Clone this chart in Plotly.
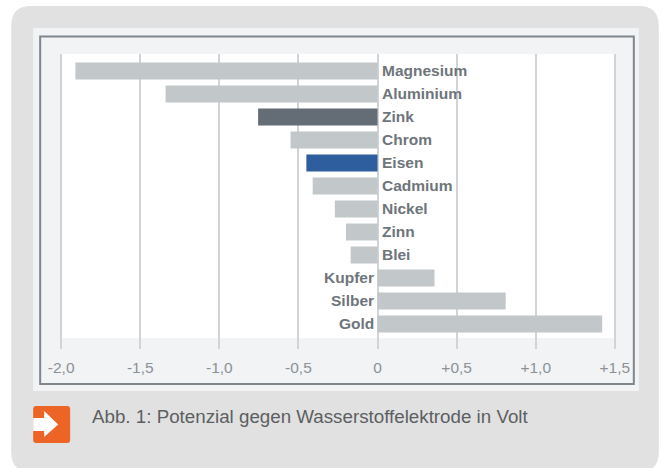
import plotly.graph_objects as go

metals = ["Magnesium", "Aluminium", "Zink", "Chrom", "Eisen", "Cadmium",
          "Nickel", "Zinn", "Blei", "Kupfer", "Silber", "Gold"]
potentials = [-1.91, -1.34, -0.755, -0.55, -0.45, -0.41, -0.27, -0.20, -0.17, 0.36, 0.81, 1.42]
tick_values = [-2.0, -1.5, -1.0, -0.5, 0, 0.5, 1.0, 1.5]
tick_labels = ["-2,0", "-1,5", "-1,0", "-0,5", "0", "+0,5", "+1,0", "+1,5"]
caption = "Abb. 1: Potenzial gegen Wasserstoffelektrode in Volt"

GREY, DARK, BLUE = "#c2c7ca", "#646c75", "#2f5e9e"
colors = [DARK if m == "Zink" else BLUE if m == "Eisen" else GREY for m in metals]

W, H = 662, 468
L, R, T, B = 57.84, 618.16, 54, 349


def px(x):
    return (x - L) / (R - L)


def py(y):
    return 1 - (y - T) / (B - T)


def rect(x0, y0, x1, y1, fill, line=None, lw=0, layer="below"):
    return dict(type="rect", xref="paper", yref="paper", x0=px(x0), x1=px(x1),
                y0=py(y0), y1=py(y1), fillcolor=fill, layer=layer,
                line=dict(color=line or fill, width=lw))


def path(points, fill):
    d = "M " + " L ".join(f"{px(x):.5f},{py(y):.5f}" for x, y in points) + " Z"
    return dict(type="path", xref="paper", yref="paper", path=d, fillcolor=fill,
                line=dict(width=0), layer="below")


def round_rect(x0, y0, x1, y1, r, fill):
    c = lambda x, y: f"{px(x):.5f},{py(y):.5f}"
    d = (f"M {c(x0 + r, y0)} L {c(x1 - r, y0)} Q {c(x1, y0)} {c(x1, y0 + r)} "
         f"L {c(x1, y1 - r)} Q {c(x1, y1)} {c(x1 - r, y1)} L {c(x0 + r, y1)} "
         f"Q {c(x0, y1)} {c(x0, y1 - r)} L {c(x0, y0 + r)} Q {c(x0, y0)} {c(x0 + r, y0)} Z")
    return dict(type="path", xref="paper", yref="paper", path=d, fillcolor=fill,
                line=dict(width=0), layer="below")


shapes = [
    round_rect(11, 6, 659, 472, 20, "#e1e1e1"),
    rect(33, 28, 639, 391, "#f2f3f5"),
    rect(40, 36.5, 634, 384, "#f2f3f5", "#7f878d", 2),
    rect(62, 54, 616, 338, "#ffffff"),
    round_rect(33, 406, 70, 443, 3, "#ec6527"),
    path([(33, 418), (44, 418), (44, 411), (58, 424.5), (44, 437), (44, 431), (33, 431)], "#ffffff"),
]

annotations = []
for m, v in zip(metals, potentials):
    annotations.append(dict(
        x=0, y=m, xref="x", yref="y", text=f"<b>{m}</b>", showarrow=False,
        xanchor="left" if v < 0 else "right", xshift=2 if v < 0 else -2, yshift=1,
        font=dict(family="Liberation Sans", size=15.5, color="#6e757b")))
annotations.append(dict(
    x=px(90), y=py(416), xref="paper", yref="paper", text=caption, showarrow=False,
    xanchor="left", yanchor="middle",
    font=dict(family="Liberation Sans", size=18.75, color="#5c5f62")))

fig = go.Figure(go.Bar(y=metals, x=potentials, orientation="h",
                       marker=dict(color=colors, line=dict(width=0)), width=0.74))
fig.update_layout(
    width=W, height=H, autosize=False, showlegend=False,
    margin=dict(l=L, r=W - R, t=T, b=H - B, pad=0),
    paper_bgcolor="#ffffff", plot_bgcolor="rgba(0,0,0,0)",
    shapes=shapes, annotations=annotations,
    xaxis=dict(range=[-2.02, 1.52], tickmode="array", tickvals=tick_values, ticktext=tick_labels,
               showgrid=True, gridcolor="#cfd4d7", gridwidth=2, zeroline=True,
               zerolinecolor="#cfd4d7", zerolinewidth=2, showline=False, ticks="",
               ticklabelstandoff=7,
               tickfont=dict(family="Liberation Sans", size=15.5, color="#8b9196")),
    yaxis=dict(categoryorder="array", categoryarray=metals, range=[12.087, -0.739],
               showticklabels=False, showgrid=False, zeroline=False, ticks=""),
)
fig.write_html("out.html", config=dict(displayModeBar=False),
               post_script="document.body.style.margin='0';")
